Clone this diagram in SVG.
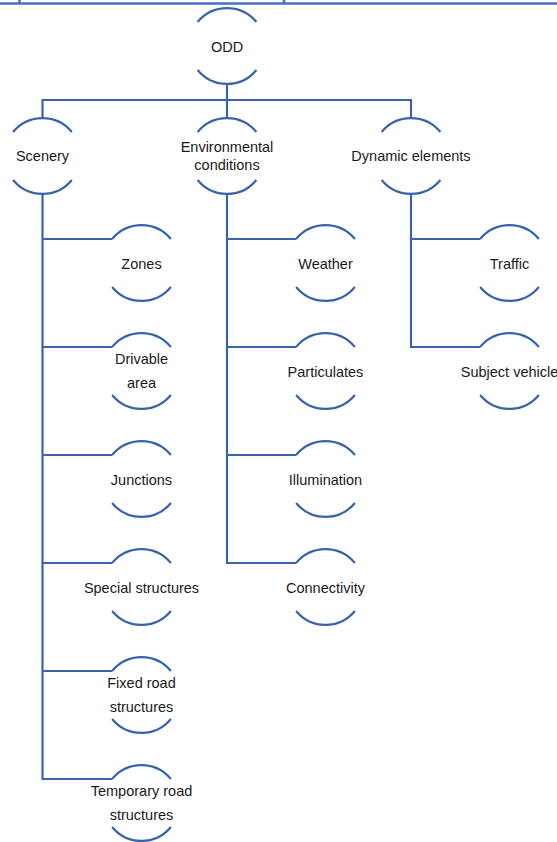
<svg xmlns="http://www.w3.org/2000/svg" xmlns:xlink="http://www.w3.org/1999/xlink" width="557" height="842" viewBox="0 0 557 842">
  <style>
    .wire { fill: none; stroke: #3A63AC; stroke-width: 2.2; }
    .edge { fill: none; stroke: #4472C4; stroke-width: 2.6; }
    .label { font-family: "Liberation Sans", Arial, sans-serif; font-size: 14.5px; fill: #1A1A1A; text-anchor: middle; }
  </style>
  <defs>
    <!-- node outline: a circle (r=38) with its left and right sides cut away -->
    <path id="node" class="wire" d="M -29.4 -24 A 38 38 0 0 1 29.4 -24 M -29.4 24 A 38 38 0 0 0 29.4 24"/>
  </defs>

  <rect width="557" height="842" fill="#FFFFFF"/>

  <!-- page edge line -->
  <g id="page-edge">
    <path class="edge" d="M 0 3.5 H 557 M 19.5 0 V 3.5 M 284 0 V 3.5"/>
  </g>

  <g id="connectors">
    <!-- root to first level -->
    <path class="wire" d="M 227 84 V 100 M 42.5 118 V 100 H 411 V 118 M 227 100 V 118"/>
    <!-- Scenery branch -->
    <path class="wire" d="M 42.5 194 V 779 H 112.1 M 42.5 239 H 112.1 M 42.5 347 H 112.1 M 42.5 455 H 112.1 M 42.5 563 H 112.1 M 42.5 671 H 112.1"/>
    <!-- Environmental conditions branch -->
    <path class="wire" d="M 227 194 V 563 H 296.1 M 227 239 H 296.1 M 227 347 H 296.1 M 227 455 H 296.1"/>
    <!-- Dynamic elements branch -->
    <path class="wire" d="M 411 194 V 347 H 480.1 M 411 239 H 480.1"/>
  </g>

  <g id="odd">
    <use xlink:href="#node" x="227" y="46"/>
    <text class="label" x="227" y="51.5">ODD</text>
  </g>

  <g id="scenery">
    <use xlink:href="#node" x="42.5" y="156"/>
    <text class="label" x="42.5" y="160.5">Scenery</text>
  </g>
  <g id="environmental-conditions">
    <use xlink:href="#node" x="227" y="156"/>
    <text class="label" x="227" y="151.5">Environmental</text>
    <text class="label" x="227" y="169.5">conditions</text>
  </g>
  <g id="dynamic-elements">
    <use xlink:href="#node" x="411" y="156"/>
    <text class="label" x="411" y="160.5">Dynamic elements</text>
  </g>

  <!-- Scenery children -->
  <g id="zones">
    <use xlink:href="#node" x="141.5" y="263"/>
    <text class="label" x="141.5" y="268.5">Zones</text>
  </g>
  <g id="drivable-area">
    <use xlink:href="#node" x="141.5" y="371"/>
    <text class="label" x="141.5" y="364">Drivable</text>
    <text class="label" x="141.5" y="388">area</text>
  </g>
  <g id="junctions">
    <use xlink:href="#node" x="141.5" y="479"/>
    <text class="label" x="141.5" y="484.5">Junctions</text>
  </g>
  <g id="special-structures">
    <use xlink:href="#node" x="141.5" y="587"/>
    <text class="label" x="141.5" y="592.5">Special structures</text>
  </g>
  <g id="fixed-road-structures">
    <use xlink:href="#node" x="141.5" y="695"/>
    <text class="label" x="141.5" y="688">Fixed road</text>
    <text class="label" x="141.5" y="712">structures</text>
  </g>
  <g id="temporary-road-structures">
    <use xlink:href="#node" x="141.5" y="803"/>
    <text class="label" x="141.5" y="796">Temporary road</text>
    <text class="label" x="141.5" y="820">structures</text>
  </g>

  <!-- Environmental conditions children -->
  <g id="weather">
    <use xlink:href="#node" x="325.5" y="263"/>
    <text class="label" x="325.5" y="268.5">Weather</text>
  </g>
  <g id="particulates">
    <use xlink:href="#node" x="325.5" y="371"/>
    <text class="label" x="325.5" y="376.5">Particulates</text>
  </g>
  <g id="illumination">
    <use xlink:href="#node" x="325.5" y="479"/>
    <text class="label" x="325.5" y="484.5">Illumination</text>
  </g>
  <g id="connectivity">
    <use xlink:href="#node" x="325.5" y="587"/>
    <text class="label" x="325.5" y="592.5">Connectivity</text>
  </g>

  <!-- Dynamic elements children -->
  <g id="traffic">
    <use xlink:href="#node" x="509.5" y="263"/>
    <text class="label" x="509.5" y="268.5">Traffic</text>
  </g>
  <g id="subject-vehicle">
    <use xlink:href="#node" x="509.5" y="371"/>
    <text class="label" x="509.5" y="376.5">Subject vehicle</text>
  </g>
</svg>
